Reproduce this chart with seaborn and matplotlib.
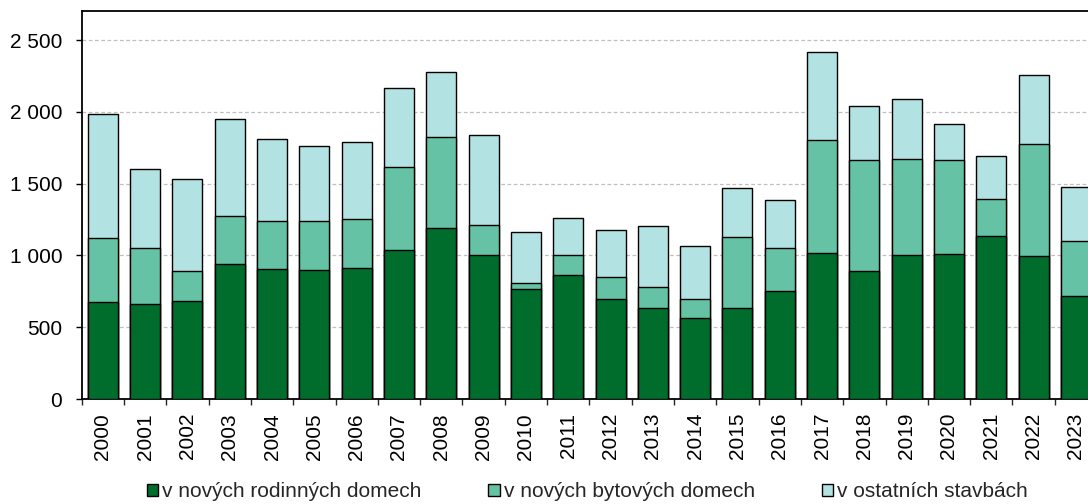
import matplotlib
matplotlib.use("Agg")
import matplotlib.pyplot as plt
from matplotlib.patches import Patch
from matplotlib.ticker import FuncFormatter, FixedLocator
import numpy as np
import pandas as pd
import seaborn as sns

# data
roky = [str(r) for r in range(2000, 2024)]
rodinne_domy = [674, 664, 683, 943, 906, 897, 913, 1036, 1194, 1004, 764, 867,
                699, 634, 565, 634, 753, 1020, 892, 1004, 1013, 1138, 994, 718]
bytove_domy = [446, 386, 207, 330, 337, 341, 344, 581, 632, 206, 45, 134,
               151, 147, 132, 491, 300, 781, 772, 667, 653, 254, 779, 383]
ostatni = [862, 555, 641, 676, 567, 521, 534, 548, 453, 630, 355, 261,
           328, 425, 369, 341, 334, 613, 378, 418, 251, 299, 481, 374]
nazvy = ["v nových rodinných domech", "v nových bytových domech", "v ostatních stavbách"]
barvy = ["#006d2c", "#66c2a4", "#b2e2e2"]

df = pd.DataFrame({"rok": roky, "rodinne": rodinne_domy,
                   "bytove": bytove_domy, "ostatni": ostatni})
df["c1"] = df["rodinne"]
df["c2"] = df["c1"] + df["bytove"]
df["c3"] = df["c2"] + df["ostatni"]

sns.set_theme(style="white")
plt.rcParams["font.family"] = ["Liberation Sans", "DejaVu Sans"]
plt.rcParams["xtick.labelsize"] = 15
plt.rcParams["ytick.labelsize"] = 15

fig = plt.figure(figsize=(10.88, 5.04), dpi=100)
ax = fig.add_axes([0.0751, 0.2083, 0.9332, 0.7693])

# stacked bars drawn from the top total down
for col, barva in zip(["c3", "c2", "c1"], barvy[::-1]):
    sns.barplot(data=df, x="rok", y=col, color=barva, edgecolor="black",
                linewidth=1.0, width=0.71, saturation=1, ax=ax, zorder=3)

ax.set_xlim(-0.5, len(roky) - 0.5)
ax.set_ylim(0, 2700)
ax.set_xlabel("")
ax.set_ylabel("")

ax.yaxis.set_major_locator(FixedLocator([0, 500, 1000, 1500, 2000, 2500]))
ax.yaxis.set_major_formatter(FuncFormatter(lambda v, p: f"{int(v):,}".replace(",", " ")))
ax.grid(axis="y", color="#c0c0c0", linestyle=(0, (3, 2)), linewidth=0.9, zorder=0)
ax.set_axisbelow(True)

ax.tick_params(axis="y", which="major", left=True, length=4, width=1, pad=10,
               labelsize=15, colors="black", direction="out")
ax.set_xticks(range(len(roky)))
ax.set_xticklabels(roky, rotation=90, fontsize=15)
ax.set_xticks(np.arange(-0.5, len(roky), 1), minor=True)
ax.tick_params(axis="x", which="major", bottom=True, length=0, pad=10, labelsize=15,
               colors="black")
ax.tick_params(axis="x", which="minor", bottom=True, length=4, width=1, direction="out")
for lbl in ax.get_xticklabels():
    lbl.set_fontsize(15)

for s in ax.spines.values():
    s.set_color("black")
    s.set_linewidth(1.3)

handles = [Patch(facecolor=b, edgecolor="black", linewidth=1.0) for b in barvy]
fig.legend(handles, nazvy, loc="center", bbox_to_anchor=(0.540, 0.024),
           ncol=3, frameon=False, fontsize=15, handlelength=0.55, handleheight=0.55,
           handletextpad=0.2, columnspacing=3.2, borderaxespad=0)

fig.savefig("out.png", dpi=100)
